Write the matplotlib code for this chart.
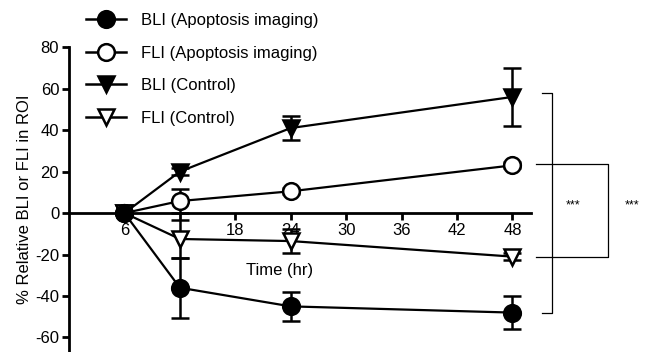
import matplotlib
matplotlib.use('Agg')
import matplotlib.pyplot as plt
from matplotlib.lines import Line2D

plt.rcParams['font.family'] = ['Liberation Sans', 'DejaVu Sans']
plt.rcParams['axes.unicode_minus'] = False

# time points (hr)
hours = [6, 12, 24, 48]

# series means and error (SEM)
bli_apo = [0, -36, -45, -48]
bli_apo_err = [0, 14.5, 7, 8]
fli_apo = [0, 5.8, 10.5, 23]
fli_apo_err = [0, 6, 1.5, 1.5]
bli_ctl = [0, 20, 41, 56]
bli_ctl_err = [0, 1.5, 6, 14]
fli_ctl = [0, -12.5, -13.5, -21]
fli_ctl_err = [0, 9, 6, 1.5]

labels = ['BLI (Apoptosis imaging)', 'FLI (Apoptosis imaging)', 'BLI (Control)', 'FLI (Control)']
xticks = [6, 12, 18, 24, 30, 36, 42, 48]
xtick_labels = ['6', '', '18', '24', '30', '36', '42', '48']  # 12 is hidden under the markers
yticks = [-60, -40, -20, 0, 20, 40, 60, 80]

fig = plt.figure(figsize=(6.47, 3.52), dpi=100)
ax = fig.add_axes([0.1066, 0.0, 0.714, 0.866])
ax.set_xlim(0, 50)
ax.set_ylim(-67, 80)

for s in ['top', 'right']:
    ax.spines[s].set_visible(False)
ax.spines['bottom'].set_position(('data', 0))
ax.spines['left'].set_linewidth(2)
ax.spines['bottom'].set_linewidth(2)
ax.tick_params(width=2, length=5, labelsize=12, pad=2)
ax.set_xticks(xticks)
ax.set_xticklabels(xtick_labels)
ax.set_yticks(yticks)

series = [
    (bli_apo, bli_apo_err, 'o', 'black'),
    (fli_apo, fli_apo_err, 'o', 'white'),
    (bli_ctl, bli_ctl_err, 'v', 'black'),
    (fli_ctl, fli_ctl_err, 'v', 'white'),
]
handles = []
for (vals, err, mk, fc), lab in zip(series, labels):
    ax.errorbar(hours, vals, yerr=err, color='black', lw=1.6, marker=mk, ms=12,
                mfc=fc, mec='black', mew=1.8, capsize=6.5, capthick=1.8,
                elinewidth=1.8, zorder=3, clip_on=False)
    handles.append(Line2D([], [], color='black', lw=1.8, marker=mk, ms=12,
                          mfc=fc, mec='black', mew=1.8, label=lab))

# filled circle on top of the pile at 6 hr
ax.plot([6], [0], 'o', color='black', ms=12, zorder=4)

ax.text(22.8, -27.5, 'Time (hr)', fontsize=12, ha='center', va='center')
ax.set_ylabel('% Relative BLI or FLI in ROI', fontsize=12, labelpad=2)

# significance brackets
ax.plot([51.2, 52.3, 52.3, 51.2], [57.8, 57.8, -48.2, -48.2], color='black', lw=0.9, clip_on=False)
ax.plot([50.5, 58.3, 58.3, 50.5], [23.6, 23.6, -21, -21], color='black', lw=0.9, clip_on=False)
ax.text(53.8, 3.5, '***', fontsize=9, ha='left', va='center')
ax.text(60.2, 3.5, '***', fontsize=9, ha='left', va='center')

fig.legend(handles=handles, loc='upper left', bbox_to_anchor=(0.11, 1.005), frameon=False,
           fontsize=12, handlelength=2.4, labelspacing=1.05, handletextpad=0.9)

fig.savefig('out.png', dpi=100)
